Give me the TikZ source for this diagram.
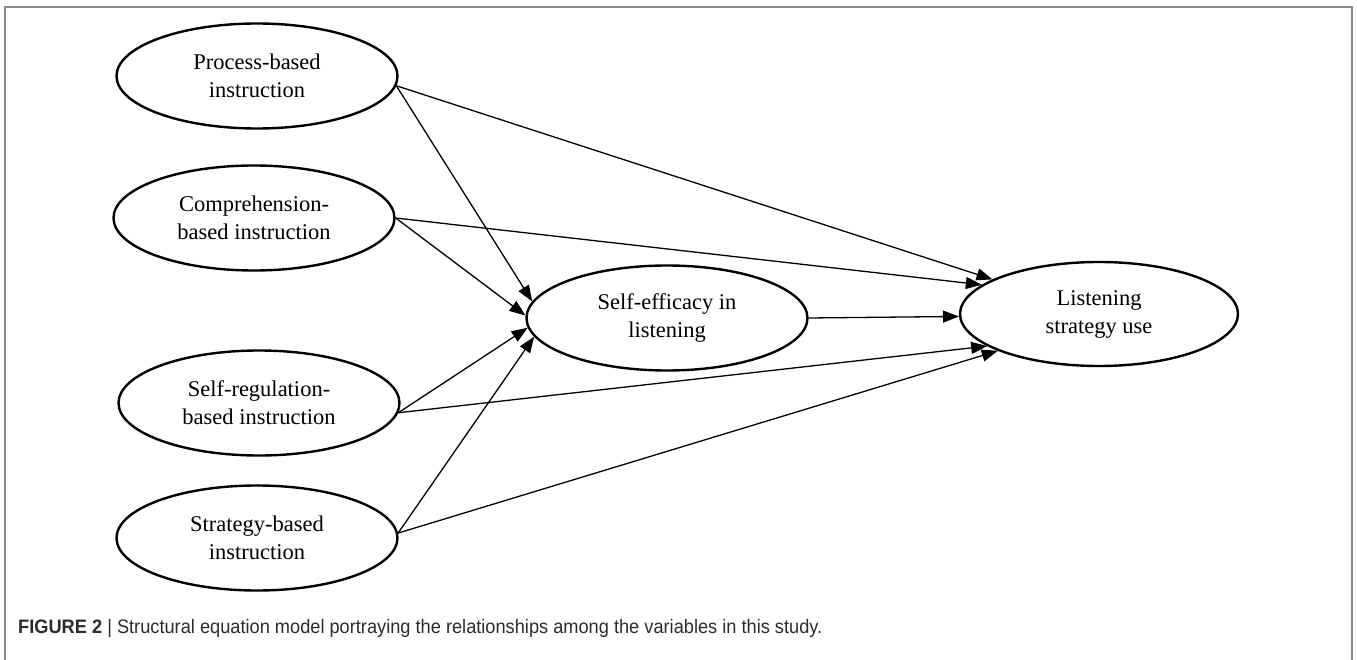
\documentclass[tikz,border=0pt]{standalone}
\usepackage{fontspec}
\setmainfont{Liberation Serif}
\newfontfamily\capfont{Liberation Sans}
\usetikzlibrary{shapes.geometric,arrows.meta}
\definecolor{framegray}{HTML}{8A8A8A}
\definecolor{captext}{HTML}{2B2B2B}
\tikzset{
  var/.style={ellipse, draw, line width=2.4pt, minimum width=281pt, minimum height=105pt,
    inner sep=0pt, align=center, font=\fontsize{22.5}{28}\selectfont},
  path/.style={line width=1.3pt, -{Triangle[length=16pt,width=12pt]}},
}
\begin{document}
\begin{tikzpicture}[x=1pt,y=-1pt]
\useasboundingbox (0,0) rectangle (1357,660);
\draw[framegray, line width=1.6pt] (5,680) -- (5,7) -- (1352,7) -- (1352,680);

\node[var] (P) at (257,76)  {Process-based\\instruction};
\node[var] (C) at (254,218) {Comprehension-\\based instruction};
\node[var] (R) at (259,403) {Self-regulation-\\based instruction};
\node[var] (S) at (257,538) {Strategy-based\\instruction};
\node[var] (E) at (667,318) {Self-efficacy in\\listening};
\node[var, minimum width=278pt, minimum height=104pt] (L) at (1099,314) {Listening\\strategy use};

\draw[path] (P.-4) -- (E.173);
\draw[path] (C.0)  -- (E.179);
\draw[path] (R.-4) -- (E.184);
\draw[path] (S.2)  -- (E.188);

\draw[path] (P.-4) -- (L.162);
\draw[path] (C.0)  -- (L.166);
\draw[path] (E.0)  -- (L.181);
\draw[path] (R.-4) -- (L.196);
\draw[path] (S.2)  -- (L.200);

\node[anchor=base west, inner sep=0pt, text=captext, font=\capfont\fontsize{19.5}{22}\selectfont] (cap) at (18,633)
  {\scalebox{0.934}[1]{\textbf{FIGURE 2} | Structural equation model portraying the relationships among the variables in this study.}};
\end{tikzpicture}
\end{document}
